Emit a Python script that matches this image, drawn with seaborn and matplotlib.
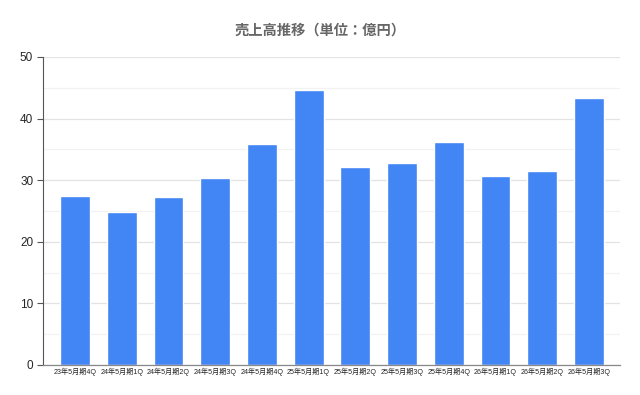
import matplotlib
matplotlib.use("Agg")
import matplotlib.pyplot as plt
import seaborn as sns
import pandas as pd
from matplotlib.ticker import MultipleLocator

# quarter labels and sales (unit: 100M yen)
quarters = ["23年5月期4Q", "24年5月期1Q", "24年5月期2Q", "24年5月期3Q",
            "24年5月期4Q", "25年5月期1Q", "25年5月期2Q", "25年5月期3Q",
            "25年5月期4Q", "26年5月期1Q", "26年5月期2Q", "26年5月期3Q"]
sales = [27.5, 24.9, 27.3, 30.3, 35.8, 44.7, 32.05, 32.7, 36.2, 30.6, 31.5, 43.4]

sns.set_style("white")
plt.rcParams["font.family"] = ["Liberation Sans", "Noto Sans CJK JP", "DejaVu Sans"]

df = pd.DataFrame({"quarter": quarters, "sales": sales})

fig = plt.figure(figsize=(6.4, 3.95), dpi=100)
ax = fig.add_axes([0.067, 0.076, 0.902, 0.780])

sns.barplot(data=df, x="quarter", y="sales", color="#4285F4", width=0.64,
            saturation=1, ax=ax)

ax.set_xlim(-0.69, 11.67)
ax.set_ylim(0, 50)
ax.yaxis.set_major_locator(MultipleLocator(10))
ax.yaxis.set_minor_locator(MultipleLocator(5))
ax.grid(True, which="major", axis="y", color="#e3e3e3", linewidth=0.9)
ax.grid(True, which="minor", axis="y", color="#f2f2f2", linewidth=0.9)
ax.set_axisbelow(True)

for s in ["top", "right"]:
    ax.spines[s].set_visible(False)
ax.spines["left"].set_color("#555555")
ax.spines["bottom"].set_color("#888888")
ax.spines["left"].set_linewidth(0.8)
ax.spines["bottom"].set_linewidth(0.9)

ax.tick_params(axis="y", which="major", length=4, width=0.8, color="#555555",
               labelsize=8.5, pad=3, left=True)
ax.tick_params(axis="y", which="minor", length=0)
ax.tick_params(axis="x", length=0, labelsize=5.1, pad=2)
ax.set_xlabel("")
ax.set_ylabel("")

fig.suptitle("売上高推移（単位：億円）", x=0.5, y=0.923, va="center",
             fontsize=10.3, fontweight="bold", color="#666666",
             family=["Noto Sans CJK JP", "DejaVu Sans"])

fig.savefig("out.png", dpi=100, facecolor="white")
